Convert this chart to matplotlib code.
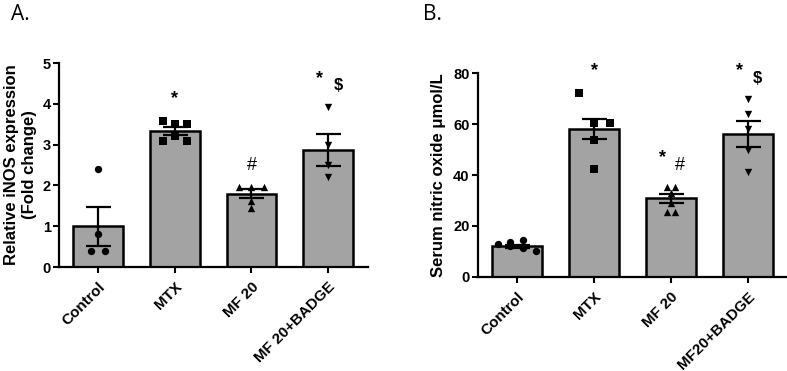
import numpy as np
import matplotlib
matplotlib.use("Agg")
import matplotlib.pyplot as plt

plt.rcParams['font.family'] = ['Liberation Sans', 'DejaVu Sans']

# datos ---------------------------------------------------------------------
grupos_A = ["Control", "MTX", "MF 20", "MF 20+BADGE"]
grupos_B = ["Control", "MTX", "MF 20", "MF20+BADGE"]

# A. iNOS (fold change)
puntos_A = [
    [2.4, 0.8, 0.4, 0.4],
    [3.58, 3.5, 3.5, 3.1, 3.22, 3.1],
    [1.97, 1.97, 1.97, 1.63, 1.44],
    [3.93, 2.98, 2.5, 2.2],
]
dx_A = [
    [0, 0, -0.09, 0.09],
    [-0.16, 0, 0.16, -0.16, 0, 0.16],
    [-0.16, 0, 0.16, 0, 0],
    [0, 0, 0, 0],
]
media_A = [1.0, 3.33, 1.8, 2.86]
sem_A = [0.48, 0.1, 0.12, 0.39]

# B. nitric oxide (umol/L)
puntos_B = [
    [13.0, 13.6, 12.3, 14.6, 11.5, 10.0],
    [72.0, 60.5, 60.5, 60.5, 53.7, 42.4],
    [35.4, 35.4, 33.0, 29.0, 25.6, 25.6],
    [69.7, 63.8, 58.0, 50.0, 41.3],
]
dx_B = [
    [-0.25, -0.09, -0.09, 0.08, 0.08, 0.25],
    [-0.2, 0, 0.2, 0, 0, 0],
    [-0.05, 0.05, 0, 0, -0.05, 0.05],
    [0, 0, 0, 0, 0],
]
media_B = [12.0, 58.0, 30.8, 56.0]
sem_B = [0.7, 4.0, 1.85, 5.0]

# significancia: (grupo, desplazamiento x, texto, y)
sig_A = [(1, 0, "*", 4.12), (2, 0, "#", 2.5), (3, -0.11, "*", 4.62), (3, 0.13, "$", 4.44)]
sig_B = [(1, 0, "*", 81.0), (2, -0.11, "*", 47.0), (2, 0.12, "#", 43.9),
         (3, -0.11, "*", 81.0), (3, 0.12, "$", 78.0)]

marcadores = ["o", "s", "^", "v"]


def panel(ax, grupos, puntos, dx, media, sem, sig, ymax, paso, ylabel, pad):
    x = np.arange(len(grupos))
    ax.bar(x, media, width=0.65, color="#a3a3a3", edgecolor="black", linewidth=1.8, zorder=1)
    for i in range(len(grupos)):
        ax.scatter(x[i] + np.array(dx[i]), puntos[i], marker=marcadores[i], s=28,
                   color="black", zorder=3, linewidths=0)
    ax.errorbar(x, media, yerr=sem, fmt="none", ecolor="black", elinewidth=1.6,
                capsize=9, capthick=1.6, zorder=4)
    for g, d, t, y in sig:
        peso = "normal" if t == "#" else "bold"
        ax.text(x[g] + d, y, t, ha="center", va="center", fontsize=13 if t != "$" else 12,
                fontweight=peso)
    ax.set_xlim(-0.51, 3.52)
    ax.set_ylim(0, ymax)
    ax.set_yticks(np.arange(0, ymax + 0.01, paso))
    ax.set_xticks(x)
    ax.set_xticklabels(grupos, rotation=45, ha="right", rotation_mode="anchor",
                       fontsize=11, fontweight="bold")
    for lbl in ax.get_yticklabels():
        lbl.set_fontweight("bold")
        lbl.set_fontsize(10.5)
    ax.set_ylabel(ylabel, fontsize=12, fontweight="bold", labelpad=pad)
    ax.spines["top"].set_visible(False)
    ax.spines["right"].set_visible(False)
    ax.spines["left"].set_linewidth(1.6)
    ax.spines["bottom"].set_linewidth(1.6)
    ax.tick_params(length=4, width=1.5, pad=2)
    ax.tick_params(axis="x", pad=5)


fig = plt.figure(figsize=(7.87, 3.71), dpi=100)

axA = fig.add_axes([59 / 787, 0.2803, (368 - 59) / 787, 0.830 - 0.2803])
panel(axA, grupos_A, puntos_A, dx_A, media_A, sem_A, sig_A, 5, 1,
      "Relative iNOS expression\n(Fold change)", 4)

axB = fig.add_axes([478 / 787, 0.2534, (788 - 478) / 787, 0.8032 - 0.2534])
panel(axB, grupos_B, puntos_B, dx_B, media_B, sem_B, sig_B, 80, 20,
      "Serum nitric oxide \u03bcmol/L", 5)

fig.text(11 / 787, 1 - 4 / 371, "A.", fontsize=15, family="Open Sans", va="top")
fig.text(423 / 787, 1 - 4 / 371, "B.", fontsize=15, family="Open Sans", va="top")

fig.savefig("out.png", dpi=100)
